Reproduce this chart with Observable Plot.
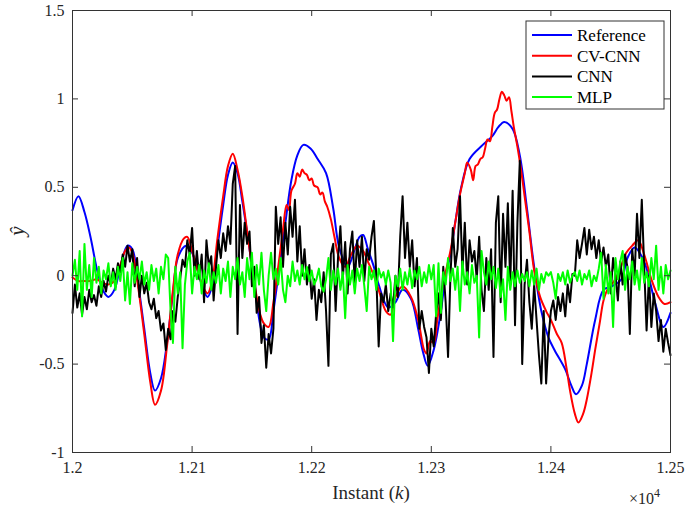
<!DOCTYPE html>
<html><head><meta charset="utf-8">
<script src="https://cdn.jsdelivr.net/npm/d3@7"></script>
<script src="https://cdn.jsdelivr.net/npm/@observablehq/plot@0.6"></script>
<style>
body{margin:0;background:#fff;}
#wrap{position:relative;width:685px;height:510px;}
#wrap svg text{font-family:"Liberation Serif","Times New Roman",serif !important;}
</style></head><body><div id="wrap"></div><script>
// ---------- data ----------
const seriesNames = ["Reference", "CV-CNN", "CNN", "MLP"];
const seriesColors = ["#0000ff", "#ff0000", "#000000", "#00ff00"];
const xTicks = [12000, 12100, 12200, 12300, 12400, 12500];
const yTicks = [-1, -0.5, 0, 0.5, 1, 1.5];

const refK = [12000,12005,12010,12015,12021,12026,12030,12035,12040,12046,12050,12055,12060,12065,12069,12074,12079,12084,12088,12095,12100,12105,12109,12113,12117,12121,12126,12130,12134,12138,12142,12147,12153,12157,12160,12164,12168,12173,12178,12183,12188,12193,12199,12205,12212,12218,12223,12230,12236,12240,12243,12247,12252,12256,12264,12270,12276,12283,12289,12293,12297,12302,12308,12312,12316,12320,12325,12332,12343,12351,12356,12361,12368,12374,12380,12386,12392,12398,12403,12412,12417,12421,12426,12430,12437,12444,12451,12459,12464,12470,12478,12487,12494,12500];
const refY = [0.37,0.45,0.36,0.22,0.02,-0.09,-0.12,-0.08,0.05,0.17,0.15,-0.05,-0.3,-0.55,-0.65,-0.58,-0.38,-0.1,0.1,0.17,0.13,0.02,-0.07,-0.12,-0.05,0.15,0.4,0.57,0.64,0.58,0.42,0.2,-0.1,-0.28,-0.35,-0.36,-0.2,0.05,0.3,0.54,0.68,0.74,0.72,0.66,0.58,0.38,0.16,0.05,0.15,0.22,0.23,0.15,0.05,-0.05,-0.18,-0.15,-0.08,-0.13,-0.3,-0.43,-0.51,-0.42,-0.2,0.0,0.12,0.3,0.5,0.66,0.74,0.79,0.84,0.87,0.83,0.68,0.38,0.05,-0.2,-0.35,-0.42,-0.53,-0.62,-0.67,-0.62,-0.5,-0.25,-0.08,-0.06,-0.02,0.1,0.16,0.08,-0.15,-0.29,-0.21];

const cvK = [12000,12005,12010,12015,12020,12025,12030,12035,12040,12044,12047,12050,12055,12060,12065,12069,12074,12079,12084,12088,12093,12096,12100,12105,12109,12113,12117,12121,12126,12130,12134,12138,12142,12147,12153,12157,12160,12164,12168,12172,12176,12179,12181,12183,12186,12188,12190,12192,12194,12196,12198,12200,12202,12205,12207,12209,12211,12213,12216,12219,12223,12228,12233,12238,12243,12247,12252,12256,12262,12266,12270,12276,12283,12289,12294,12296,12299,12302,12305,12308,12312,12316,12320,12324,12328,12330,12333,12335,12337,12339,12341,12343,12345,12347,12349,12351,12353,12355,12357,12359,12361,12363,12365,12367,12369,12372,12375,12378,12382,12386,12391,12396,12400,12405,12409,12413,12416,12420,12423,12427,12430,12434,12437,12441,12444,12448,12452,12458,12463,12468,12473,12478,12484,12490,12495,12500];
const cvY = [-0.01,-0.03,-0.03,-0.03,-0.02,-0.04,-0.05,-0.03,0.06,0.14,0.16,0.13,-0.07,-0.33,-0.6,-0.73,-0.65,-0.4,-0.08,0.12,0.21,0.22,0.14,0.02,-0.06,-0.1,-0.02,0.2,0.45,0.62,0.69,0.6,0.45,0.2,-0.08,-0.22,-0.27,-0.29,-0.15,0.05,0.26,0.4,0.37,0.48,0.52,0.58,0.56,0.6,0.58,0.57,0.54,0.55,0.51,0.5,0.46,0.47,0.42,0.39,0.32,0.22,0.1,0.05,0.12,0.17,0.14,0.08,0.0,-0.08,-0.2,-0.22,-0.12,-0.06,-0.12,-0.25,-0.42,-0.44,-0.37,-0.38,-0.25,-0.12,0.02,0.14,0.3,0.46,0.58,0.64,0.6,0.54,0.62,0.63,0.66,0.67,0.72,0.77,0.76,0.84,0.92,0.94,1.0,1.04,1.02,0.99,1.01,0.93,0.84,0.73,0.6,0.45,0.25,0.03,-0.12,-0.2,-0.25,-0.33,-0.38,-0.52,-0.65,-0.78,-0.83,-0.78,-0.7,-0.55,-0.42,-0.26,-0.14,-0.07,-0.04,0.04,0.13,0.17,0.2,0.12,-0.02,-0.12,-0.16,-0.15];

// CNN and MLP are sampled every kStep instants from kStart
const kStart = 12000, kStep = 2;
const cnnY = [
-0.21,-0.05,-0.18,-0.1,-0.22,-0.12,-0.19,-0.08,-0.15,-0.11,
-0.17,-0.06,-0.12,-0.03,-0.09,0.0,-0.05,0.04,-0.02,0.07,
0.02,0.12,0.05,0.17,0.08,0.15,-0.06,0.1,-0.12,0.0,
-0.1,-0.04,-0.15,-0.19,-0.13,-0.24,-0.2,-0.31,-0.27,-0.42,
-0.3,-0.36,-0.2,-0.26,-0.12,-0.02,0.09,0.05,0.2,0.12,
0.27,0.0,0.14,-0.02,0.12,-0.15,0.2,0.05,0.11,-0.14,
0.05,0.2,0.1,0.24,0.14,0.28,0.18,0.52,0.62,-0.33,
0.4,0.1,0.3,0.18,0.25,-0.06,0.05,-0.21,-0.12,-0.38,
-0.28,-0.52,-0.33,-0.44,-0.3,0.39,0.18,0.33,0.05,0.3,
0.12,0.39,0.22,0.43,0.08,0.28,0.0,0.15,-0.05,0.06,
-0.13,-0.02,-0.25,-0.08,-0.15,0.02,-0.2,-0.51,0.12,0.18,
-0.2,0.1,0.28,-0.02,0.19,-0.1,0.15,0.25,-0.05,0.2,
0.05,0.22,-0.03,0.15,0.09,0.22,0.31,0.0,-0.4,-0.1,
-0.15,-0.05,-0.2,-0.1,-0.18,0.0,-0.12,0.22,0.45,0.1,
0.3,0.05,0.2,-0.06,0.1,-0.3,-0.2,-0.29,-0.35,-0.55,
-0.3,-0.4,-0.22,-0.1,-0.25,0.05,-0.15,-0.46,0.0,0.27,
0.05,0.15,0.45,0.02,0.3,-0.05,0.2,0.08,0.14,-0.02,
0.22,-0.08,-0.2,0.1,-0.08,0.15,-0.46,0.3,0.45,-0.15,
0.35,0.05,0.41,-0.05,0.48,-0.28,0.3,0.65,-0.5,-0.05,
0.09,-0.15,-0.3,-0.05,-0.25,-0.45,-0.61,-0.2,-0.61,-0.35,
-0.2,-0.14,-0.25,-0.12,-0.2,-0.1,-0.23,-0.05,-0.15,0.01,
0.0,0.2,0.1,0.18,0.27,0.12,0.26,0.15,0.22,0.1,
0.2,0.08,0.16,0.05,0.12,-0.1,0.1,0.0,-0.14,0.08,
-0.05,0.12,0.05,-0.33,0.15,0.0,0.35,0.1,0.43,0.05,
-0.31,0.0,-0.29,-0.1,-0.2,-0.37,-0.25,-0.43,-0.3,-0.38,
-0.45];
const mlpY = [
0.0,0.09,-0.08,0.14,-0.23,0.18,-0.08,0.06,-0.12,0.1,
-0.04,0.05,-0.1,0.03,-0.02,0.07,-0.06,0.02,-0.08,0.05,
-0.03,0.1,-0.14,0.02,-0.16,0.07,-0.04,0.05,-0.02,0.08,
-0.05,0.02,-0.08,0.06,-0.03,0.04,-0.1,0.05,-0.02,0.12,
0.1,-0.2,-0.38,0.05,-0.1,0.02,-0.41,-0.05,0.08,0.13,
-0.1,0.05,-0.02,0.06,-0.1,0.03,-0.04,0.07,-0.08,0.02,
-0.04,0.06,-0.1,0.04,-0.03,0.08,-0.12,0.05,-0.02,0.1,
-0.05,0.02,-0.12,0.1,-0.02,0.13,-0.12,0.06,-0.05,0.13,
-0.08,-0.2,0.0,0.13,-0.02,0.04,-0.05,0.1,-0.08,-0.15,
0.0,-0.06,0.08,-0.03,0.03,-0.05,0.06,-0.02,0.05,-0.03,
0.03,-0.05,-0.02,0.04,-0.06,-0.09,-0.02,0.1,-0.08,0.03,
-0.05,0.04,-0.08,0.02,-0.24,0.06,-0.05,0.03,-0.1,0.04,
-0.03,0.06,-0.06,-0.2,0.05,-0.02,0.03,-0.08,0.04,-0.01,
0.02,-0.05,0.03,-0.04,-0.37,0.0,-0.06,0.04,-0.08,0.02,
-0.05,0.04,-0.07,0.03,-0.02,0.05,-0.06,0.02,-0.04,0.06,
-0.02,0.06,-0.23,0.07,-0.21,0.02,-0.05,0.1,-0.03,0.04,
-0.08,0.05,-0.2,0.08,-0.05,0.02,-0.1,0.06,-0.04,0.0,
-0.35,0.14,0.02,-0.05,0.08,-0.02,0.05,-0.07,0.04,-0.12,
-0.02,-0.25,0.05,-0.08,0.02,-0.06,0.03,-0.04,0.01,-0.03,
0.02,-0.06,0.03,-0.05,0.04,-0.08,0.01,-0.04,0.02,0.0,
0.02,-0.04,-0.13,0.01,-0.03,0.02,-0.05,0.03,-0.04,0.0,
0.02,-0.03,0.03,-0.05,0.01,-0.02,0.03,-0.06,0.0,-0.03,
0.04,0.13,-0.13,0.06,-0.1,0.02,-0.29,0.1,-0.02,0.08,
0.14,-0.08,0.05,-0.02,0.08,-0.05,0.03,-0.08,0.1,-0.04,
0.02,-0.06,0.1,-0.02,0.17,-0.08,0.05,-0.1,0.06,-0.02,
0.03];

// ---------- tables ----------
const refData = refK.map((k, i) => ({k, y: refY[i]}));
const cvData = cvK.map((k, i) => ({k, y: cvY[i]}));
const cnnData = cnnY.map((y, i) => ({k: kStart + i * kStep, y}));
const mlpData = mlpY.map((y, i) => ({k: kStart + i * kStep, y}));
const allSeries = [refData, cvData, cnnData, mlpData];
const seriesCurves = ["catmull-rom", "catmull-rom", "linear", "linear"];

// ---------- chart ----------
const W = 685, H = 510, mL = 72, mR = 15, mT = 10, mB = 58;
const innerW = W - mL - mR, innerH = H - mT - mB;
const tickLen = 6;
const font = '"Liberation Serif", "Times New Roman", serif';
const axisColor = "#333333";

const chart = Plot.plot({
  width: W, height: H,
  marginLeft: mL, marginRight: mR, marginTop: mT, marginBottom: mB,
  style: {fontFamily: font, fontSize: "16px", color: "#262626", background: "white", overflow: "visible"},
  x: {domain: [12000, 12500]},
  y: {domain: [-1, 1.5]},
  marks: [
    ...allSeries.map((d, i) => Plot.line(d, {x: "k", y: "y", stroke: seriesColors[i], strokeWidth: 2,
      strokeLinejoin: "round", curve: seriesCurves[i]})),
    // inward ticks on all four sides
    Plot.ruleX(xTicks, {x: d => d, insetTop: innerH - tickLen, stroke: axisColor}),
    Plot.ruleX(xTicks, {x: d => d, insetBottom: innerH - tickLen, stroke: axisColor}),
    Plot.ruleY(yTicks, {y: d => d, insetRight: innerW - tickLen, stroke: axisColor}),
    Plot.ruleY(yTicks, {y: d => d, insetLeft: innerW - tickLen, stroke: axisColor}),
    Plot.frame({stroke: axisColor, strokeWidth: 1}),
    Plot.axisX(xTicks, {anchor: "bottom", tickSize: 0, tickPadding: 9, label: null, fontSize: 16, fontFamily: font,
      tickFormat: d => String(+(d / 1e4).toFixed(2))}),
    Plot.axisY(yTicks, {anchor: "left", tickSize: 0, tickPadding: 8, label: null, fontSize: 16, fontFamily: font,
      tickFormat: d => String(d)})
  ]
});
document.getElementById("wrap").appendChild(chart);

const svg = d3.select(chart);
// x label
const xl = svg.append("text")
  .attr("x", mL + innerW / 2).attr("y", 499)
  .attr("text-anchor", "middle")
  .style("font-size", "19px").attr("fill", "#262626");
xl.append("tspan").text("Instant (");
xl.append("tspan").text("k").style("font-style", "italic");
xl.append("tspan").text(")");
// exponent
const ex = svg.append("text")
  .attr("x", 629).attr("y", 504).attr("text-anchor", "start")
  .style("font-size", "16px").attr("fill", "#262626");
ex.append("tspan").text("×10");
ex.append("tspan").text("4").attr("dy", -7).style("font-size", "12px");
// y label
svg.append("text")
  .attr("transform", `translate(24, ${mT + innerH / 2}) rotate(-90)`)
  .attr("text-anchor", "middle")
  .style("font-size", "21px").style("font-style", "italic")
  .attr("fill", "#262626")
  .text("ŷ");

// legend
const lg = svg.append("g");
lg.append("rect").attr("x", 526).attr("y", 21).attr("width", 138).attr("height", 88)
  .attr("fill", "white").attr("stroke", axisColor).attr("stroke-width", 1);
seriesNames.forEach((name, i) => {
  const yy = 35 + i * 20.7;
  lg.append("line").attr("x1", 532).attr("x2", 572).attr("y1", yy).attr("y2", yy)
    .attr("stroke", seriesColors[i]).attr("stroke-width", 2);
  lg.append("text").attr("x", 577).attr("y", yy).attr("dy", "0.35em")
    .attr("text-anchor", "start")
    .style("font-size", "17px").attr("fill", "#000")
    .text(name);
});
</script></body></html>
